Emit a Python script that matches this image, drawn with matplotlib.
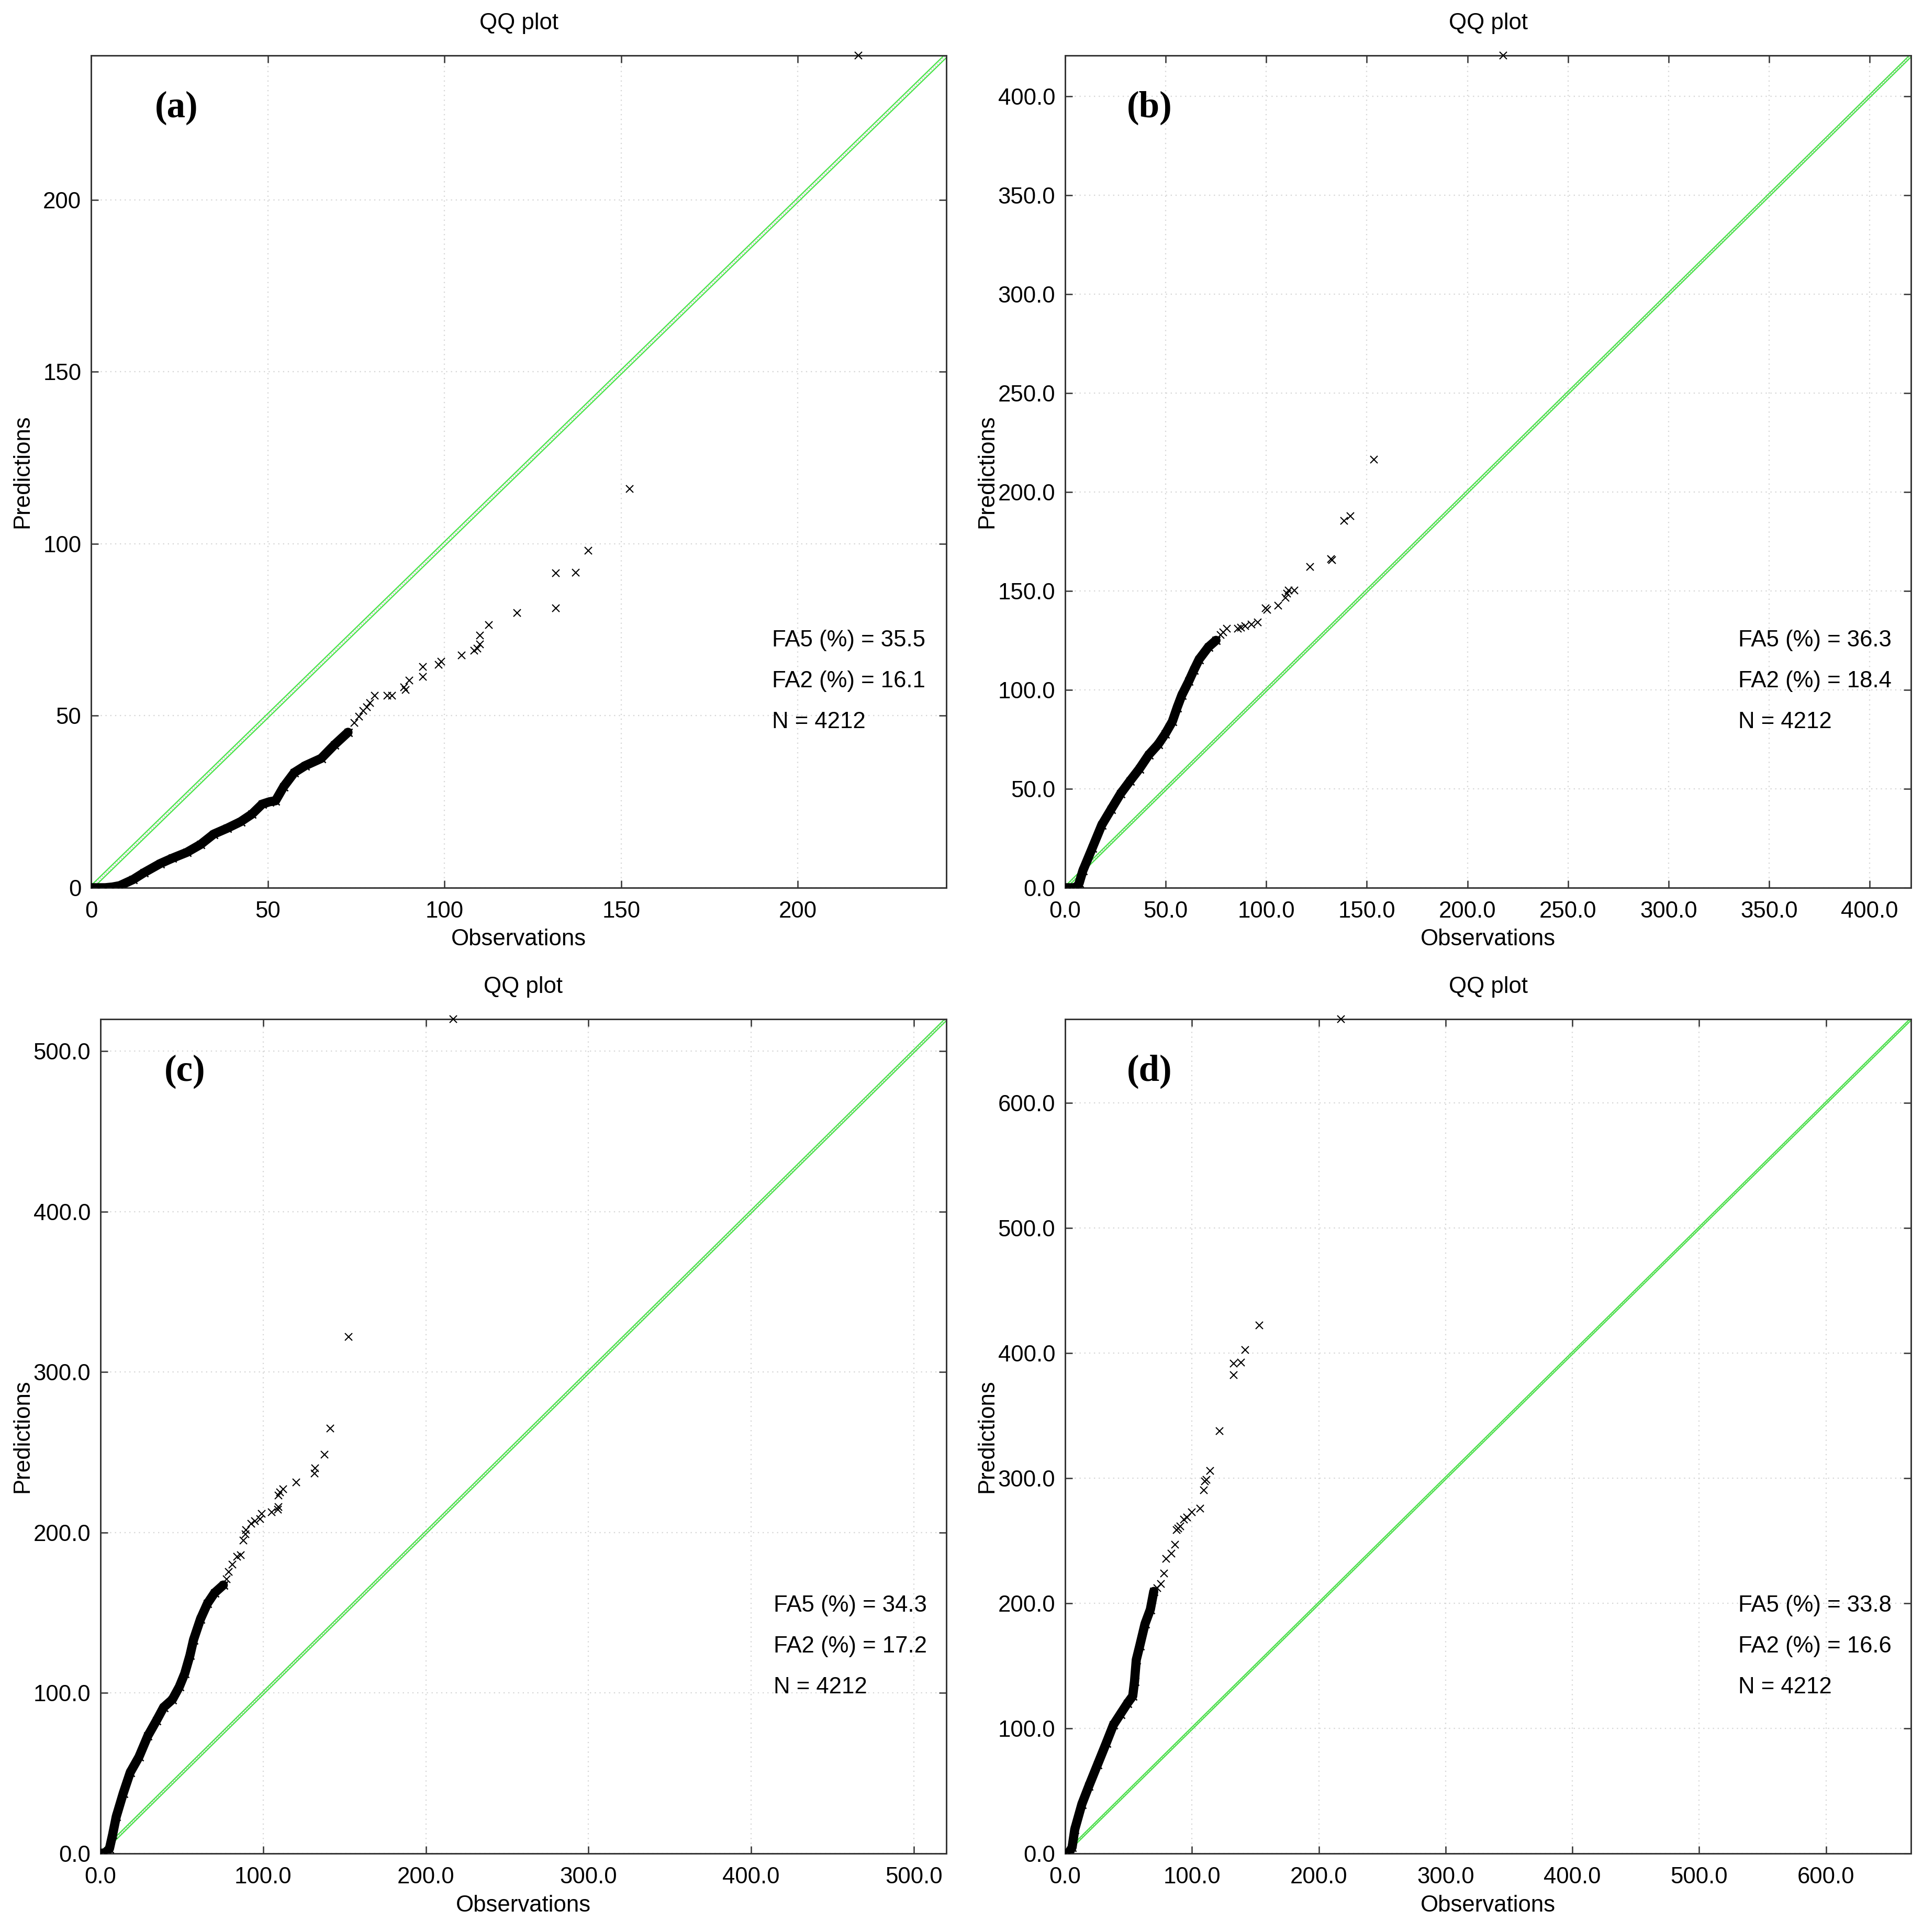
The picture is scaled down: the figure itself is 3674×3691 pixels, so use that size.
import matplotlib
matplotlib.use("Agg")
import matplotlib.pyplot as plt
from matplotlib.ticker import FixedLocator, FormatStrFormatter

plt.rcParams['font.family'] = ['Liberation Sans', 'DejaVu Sans']

# ---------------- data ----------------
# panel (a)
obs_a_dense = [0, 2, 4, 6, 8.1, 11.9, 15, 19.5, 23, 27.1, 31, 34.7, 38.5, 42.3, 45.5,
               48.4, 50.5, 52.2, 54.5, 57.5, 60.6, 65.1, 68.9, 72.7]
pred_a_dense = [0, 0, 0, 0.2, 0.6, 2.4, 4.4, 7.0, 8.6, 10.3, 12.6, 15.6, 17.3, 19.2, 21.4,
                24.3, 25.0, 25.3, 29.4, 33.5, 35.5, 37.6, 41.6, 45.2]
obs_a_sparse = [74.5, 75.8, 77, 78, 79, 80.3, 83.9, 85.1, 88.5, 89, 90, 93.9, 93.9, 98.4,
                99.1, 104.9, 108.4, 109.3, 110.1, 110.1, 112.6, 120.5, 131.5, 131.5,
                137.2, 140.7, 152.4, 217.1]
pred_a_sparse = [48.0, 49.8, 51.5, 52.5, 53.8, 55.8, 55.9, 55.9, 58.3, 57.5, 60.3, 61.3,
                 64.2, 64.9, 65.8, 67.6, 68.9, 69.6, 70.7, 73.4, 76.4, 79.9, 81.3, 91.4,
                 91.7, 98.0, 116.0, 242.0]

# panel (b)
obs_b_dense = [0, 2, 4, 6, 7, 8.8, 13.5, 18.2, 22.9, 27.6, 32.2, 36.9, 41.6, 46.3, 49.8,
               53.3, 55.7, 58.0, 61.5, 64.0, 66.6, 71.2, 75.0]
pred_b_dense = [0, 0, 0, 0.5, 2.4, 8.6, 20.1, 31.7, 39.7, 47.6, 53.9, 60.1, 67.2, 72.5,
                77.8, 84.0, 91.1, 97.3, 104.4, 110.0, 115.4, 121.6, 125.0]
obs_b_sparse = [77.3, 78.5, 80.4, 85.9, 87.5, 89.6, 92.6, 95.7, 99.7, 100.5, 105.8, 109.5,
                110.4, 111.0, 114.1, 121.8, 132.2, 132.6, 138.7, 141.7, 153.4, 217.8]
pred_b_sparse = [127.8, 129.0, 130.9, 130.9, 131.5, 132.2, 133.1, 134.1, 141.2, 140.5,
                 142.5, 146.5, 148.7, 150.3, 150.3, 162.1, 166.2, 165.6, 185.5, 187.7,
                 216.4, 420.5]

# panel (c)
obs_c_dense = [0, 3, 5.5, 7.5, 9.7, 14, 18.3, 23.7, 29.1, 34.5, 38.8, 44.2, 48.5, 51.8,
               55.0, 57.2, 61.5, 65.8, 70.1, 75.5]
pred_c_dense = [0, 0.5, 3, 12, 23, 37.6, 50.6, 60.3, 73.3, 83, 91.1, 96, 104, 112.2,
                123.5, 133.2, 146.2, 155.9, 162.4, 167.3]
obs_c_sparse = [77.5, 78.7, 81, 84.1, 86.3, 88, 89, 89.5, 92.8, 94.9, 98.2, 99.2, 105.2,
                109, 109.3, 109.5, 110.5, 112.2, 120.3, 131.6, 132, 137.6, 141.4, 152.4, 217]
pred_c_sparse = [171, 175.4, 180, 185.1, 186, 195, 199, 201.5, 205.4, 207, 208.6, 211.8,
                 212.6, 214.2, 215.8, 223.1, 225, 227.2, 231.3, 237, 240.2, 248.7, 264.8,
                 322.1, 520]

# panel (d)
obs_d_dense = [0, 3, 5.5, 7.6, 13.2, 18.7, 25.6, 32.5, 38.1, 43.6, 49.2, 53.3, 54.7, 56.1,
               58.9, 63.0, 67.2, 69.9]
pred_d_dense = [0, 0.5, 5, 19.3, 39.5, 53.9, 71.2, 88.5, 102.9, 111.5, 120.2, 125.9, 137.5,
                154.8, 166.3, 183.6, 195.1, 209.5]
obs_d_sparse = [72.5, 75.5, 78.2, 79.6, 83.8, 86.6, 88, 89, 90.7, 93.5, 96.3, 99.7, 106.6,
                109.4, 110.1, 111.5, 114.3, 121.6, 132.7, 132.7, 138.5, 142, 153, 217.6]
pred_d_sparse = [212, 215.3, 223.9, 235.4, 239.8, 247, 258.5, 260, 261.4, 267.1, 268.6,
                 272.9, 275.8, 290.2, 297.4, 298.8, 306, 337.7, 382.4, 391.6, 392.5, 402.6,
                 422.2, 667]

panel_labels = ['(a)', '(b)', '(c)', '(d)']
fa5 = [35.5, 36.3, 34.3, 33.8]
fa2 = [16.1, 18.4, 17.2, 16.6]
n_obs = [4212, 4212, 4212, 4212]
ticks = [[0, 50, 100, 150, 200],
         [0, 50, 100, 150, 200, 250, 300, 350, 400],
         [0, 100, 200, 300, 400, 500],
         [0, 100, 200, 300, 400, 500, 600]]
tick_fmt = ['%d', '%.1f', '%.1f', '%.1f']
# half-gap of the pair of green reference lines, in data units
band_off = [0.65, 0.8, 1.0, 1.0]

dense = [(obs_a_dense, pred_a_dense), (obs_b_dense, pred_b_dense),
         (obs_c_dense, pred_c_dense), (obs_d_dense, pred_d_dense)]
sparse = [(obs_a_sparse, pred_a_sparse), (obs_b_sparse, pred_b_sparse),
          (obs_c_sparse, pred_c_sparse), (obs_d_sparse, pred_d_sparse)]

# ---------------- layout ----------------
W, H = 3674, 3691
fig = plt.figure(figsize=(W / 300, H / 300), dpi=300)
boxes = [(174, 106, 1808, 1696), (2035, 106, 3651, 1696),
         (192, 1947, 1808, 3541), (2035, 1947, 3651, 3541)]
ylab_x = [-0.068, -0.0798, -0.0798, -0.0798]

green = '#48e448'

for i in range(4):
    l, t, r, b = boxes[i]
    ax = fig.add_axes([l / W, 1 - b / H, (r - l) / W, (b - t) / H])
    xd, yd = dense[i]
    xs, ys = sparse[i]
    lim = max(max(ys), max(xs))
    off = band_off[i]

    ax.grid(True, linestyle=(0, (1, 3)), color='#d6d6d6', linewidth=0.55, zorder=0)
    # reference lines
    ax.plot([0, lim], [0, lim], linestyle=(0, (1, 2)), color='#a8a8a8', lw=0.4, zorder=2)
    ax.plot([0, lim], [off, lim + off], color=green, lw=0.55, zorder=2)
    ax.plot([0, lim], [-off, lim - off], color=green, lw=0.55, zorder=2)

    # quantile points
    ax.plot(xd, yd, color='black', lw=4.2, solid_capstyle='round',
            solid_joinstyle='round', zorder=3)
    ax.plot(xd, yd, linestyle='none', marker='x', color='black', ms=3.6, mew=0.6, zorder=3)
    ax.plot(xs, ys, linestyle='none', marker='x', color='black', ms=3.2, mew=0.5,
            zorder=4, clip_on=False)

    ax.set_xlim(0, lim)
    ax.set_ylim(0, lim)
    ax.xaxis.set_major_locator(FixedLocator(ticks[i]))
    ax.yaxis.set_major_locator(FixedLocator(ticks[i]))
    ax.xaxis.set_major_formatter(FormatStrFormatter(tick_fmt[i]))
    ax.yaxis.set_major_formatter(FormatStrFormatter(tick_fmt[i]))
    ax.tick_params(direction='in', length=3.4, width=0.6, color='#333333',
                   top=True, right=True, labelsize=10.5, pad=4.5)
    ax.tick_params(axis='x', pad=6)
    for sp in ax.spines.values():
        sp.set_color('#333333')
        sp.set_linewidth(0.7)

    ax.set_title('QQ plot', fontsize=10.5, pad=12)
    ax.set_xlabel('Observations', fontsize=10.5, labelpad=3)
    ax.set_ylabel('Predictions', fontsize=10.5)
    ax.yaxis.set_label_coords(ylab_x[i], 0.5)

    ax.text(0.10, 0.937, panel_labels[i], transform=ax.transAxes, ha='center', va='center',
            fontsize=17, fontweight='bold', family=['Liberation Serif', 'DejaVu Serif'])
    ax.text(0.796, 0.297, 'FA5 (%%) = %.1f' % fa5[i], transform=ax.transAxes,
            ha='left', va='center', fontsize=10.5)
    ax.text(0.796, 0.248, 'FA2 (%%) = %.1f' % fa2[i], transform=ax.transAxes,
            ha='left', va='center', fontsize=10.5)
    ax.text(0.796, 0.199, 'N = %d' % n_obs[i], transform=ax.transAxes,
            ha='left', va='center', fontsize=10.5)

fig.savefig('out.png', dpi=300)
